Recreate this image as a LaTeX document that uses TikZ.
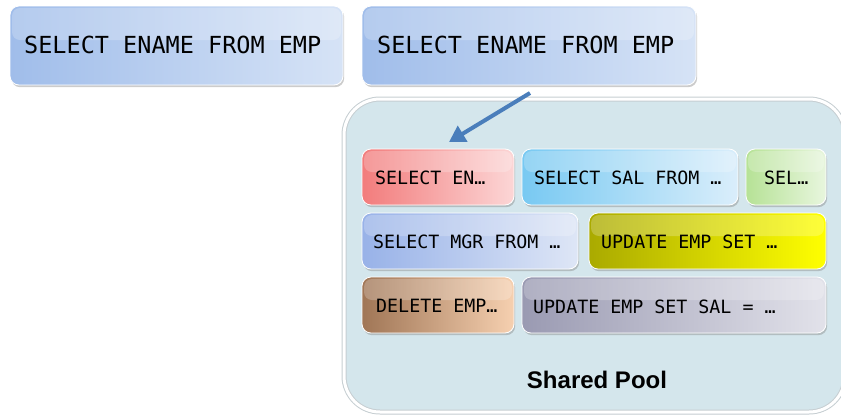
\documentclass[tikz,border=0pt]{standalone}
\usepackage{fontspec}
\setmonofont{DejaVu Sans Mono}
\newfontfamily\poolfont{Liberation Sans}
\usetikzlibrary{shadows,arrows.meta}
\definecolor{poolfill}{HTML}{D4E6EC}
\definecolor{poolrim}{HTML}{C6CED2}
\definecolor{arrowblue}{HTML}{4A7EBB}
\tikzset{
  sqlbox/.style={rounded corners=9pt, draw=white, line width=0.8pt,
    drop shadow={opacity=0.4, shadow xshift=1.2pt, shadow yshift=-2.2pt},
    inner sep=0pt, outer sep=0pt},
  gloss/.style={rounded corners=8pt, fill=white, fill opacity=0.22, draw=none},
  bigtxt/.style={font=\ttfamily\fontsize{23.5}{26}\selectfont, anchor=west, inner sep=0pt},
  smalltxt/.style={font=\ttfamily\fontsize{18.3}{21}\selectfont, anchor=west, inner sep=0pt},
}
\begin{document}
\begin{tikzpicture}[x=1pt,y=-1pt]
\useasboundingbox (0,0) rectangle (841,418);
% shared pool
\draw[rounded corners=36pt, fill=poolfill, draw=poolrim, line width=5pt,
  drop shadow={opacity=0.25, shadow xshift=0.5pt, shadow yshift=-2pt}]
  (344,99) rectangle (845,412);
\draw[rounded corners=36pt, draw=white, line width=3pt]
  (344,99) rectangle (845,412);
\node[font=\poolfont\bfseries\fontsize{24}{26}\selectfont] (pool) at (597,380) {Shared Pool};
% top boxes
\path[sqlbox, left color={rgb,255:red,160;green,189;blue,234}, right color={rgb,255:red,214;green,227;blue,246}]
  (10,6) rectangle (343,85);
\path[gloss] (12,8) rectangle (341,40);
\node[bigtxt] (q1) at (24,45) {SELECT ENAME FROM EMP};
\path[sqlbox, left color={rgb,255:red,160;green,189;blue,234}, right color={rgb,255:red,214;green,227;blue,246}]
  (362,6) rectangle (696,85);
\path[gloss] (364,8) rectangle (694,40);
\node[bigtxt] (q2) at (377,45) {SELECT ENAME FROM EMP};
% inner boxes
\path[sqlbox, left color={rgb,255:red,242;green,124;blue,124}, right color={rgb,255:red,252;green,214;blue,214}]
  (362,149) rectangle (514,205);
\path[gloss] (364,151) rectangle (512,172);
\node[smalltxt] (a) at (375,178) {SELECT EN…};
\path[sqlbox, left color={rgb,255:red,120;green,201;blue,242}, right color={rgb,255:red,218;green,238;blue,251}]
  (522,149) rectangle (738,205);
\path[gloss] (524,151) rectangle (736,172);
\node[smalltxt] (b) at (534,178) {SELECT SAL FROM …};
\path[sqlbox, left color={rgb,255:red,182;green,226;blue,150}, right color={rgb,255:red,232;green,246;blue,222}]
  (746,149) rectangle (826,205);
\path[gloss] (748,151) rectangle (824,172);
\node[smalltxt] (c) at (764,178) {SEL…};
\path[sqlbox, left color={rgb,255:red,152;green,178;blue,232}, right color={rgb,255:red,222;green,230;blue,246}]
  (362,213) rectangle (578,269);
\path[gloss] (364,215) rectangle (576,236);
\node[smalltxt] (d) at (373,242) {SELECT MGR FROM …};
\path[sqlbox, left color={rgb,255:red,170;green,170;blue,0}, right color={rgb,255:red,255;green,255;blue,0}]
  (589,213) rectangle (826,269);
\path[gloss] (591,215) rectangle (824,236);
\node[smalltxt] (e) at (601,242) {UPDATE EMP SET …};
\path[sqlbox, left color={rgb,255:red,160;green,118;blue,86}, right color={rgb,255:red,246;green,208;blue,176}]
  (362,277) rectangle (514,333);
\path[gloss] (364,279) rectangle (512,300);
\node[smalltxt] (f) at (376,306) {DELETE EMP…};
\path[sqlbox, left color={rgb,255:red,154;green,154;blue,178}, right color={rgb,255:red,226;green,226;blue,234}]
  (522,277) rectangle (826,333);
\path[gloss] (524,279) rectangle (824,300);
\node[smalltxt] (g) at (533,307) {UPDATE EMP SET SAL = …};
% arrow
\coordinate (as) at (530,93);
\coordinate (ae) at (449,142);
\draw[arrowblue, line width=4pt, -{Triangle[length=16pt,width=18pt]}] (as) -- (ae);
\end{tikzpicture}
\end{document}
